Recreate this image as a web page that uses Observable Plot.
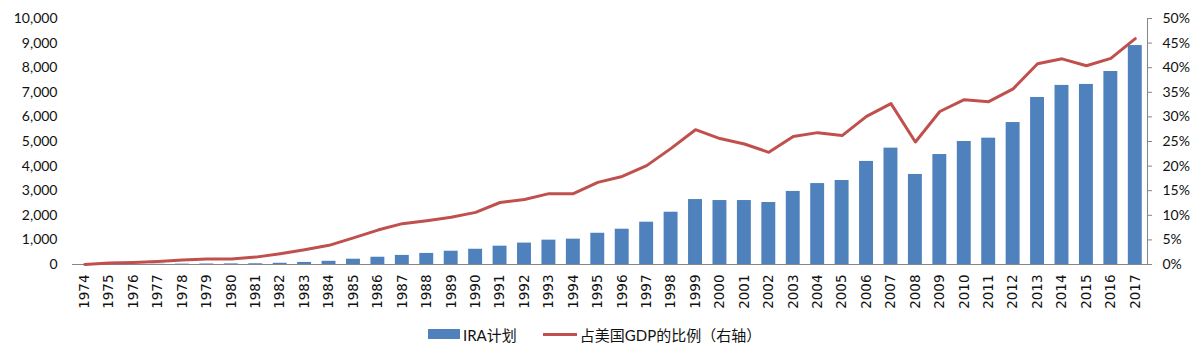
<!DOCTYPE html>
<html>
<head>
<meta charset="utf-8">
<script src="https://cdn.jsdelivr.net/npm/d3@7"></script>
<script src="https://cdn.jsdelivr.net/npm/@observablehq/plot@0.6"></script>
<style>
  html, body { margin: 0; padding: 0; background: #fff; }
  #chart { width: 1201px; }
  .legend { height: 24px; display: flex; align-items: center; padding-left: 428px;
            font-family: Lato, "Noto Sans CJK SC", sans-serif; font-size: 15px; color: #111; }
  .sw-bar { width: 32px; height: 10px; background: #4F81BD; margin-right: 3px; }
  .sw-line { width: 34px; height: 3px; background: #C0504D; margin-left: 26px; margin-right: 3px; }
</style>
</head>
<body>
<div id="chart"></div>
<div class="legend">
  <span class="sw-bar"></span><span>IRA计划</span>
  <span class="sw-line"></span><span>占美国GDP的比例（右轴）</span>
</div>
<script>
const years = ["1974","1975","1976","1977","1978","1979","1980","1981","1982","1983",
  "1984","1985","1986","1987","1988","1989","1990","1991","1992","1993",
  "1994","1995","1996","1997","1998","1999","2000","2001","2002","2003",
  "2004","2005","2006","2007","2008","2009","2010","2011","2012","2013",
  "2014","2015","2016","2017"];
const iraAssets = [1,3,5,9,14,20,25,30,50,85,
  130,215,295,370,450,540,620,745,870,990,
  1030,1270,1435,1720,2125,2640,2600,2600,2520,2970,
  3290,3415,4190,4730,3660,4470,5000,5135,5770,6790,
  7280,7320,7845,8900];
const gdpShare = [0,0.3,0.4,0.6,0.9,1.1,1.1,1.5,2.2,3.0,
  3.9,5.4,7.0,8.3,8.9,9.6,10.6,12.6,13.2,14.4,
  14.4,16.7,17.9,20.1,23.6,27.4,25.6,24.5,22.8,26.0,
  26.8,26.2,30.1,32.7,24.9,31.1,33.5,33.1,35.7,40.8,
  41.8,40.4,41.9,45.9];
const leftTicks = [0,1000,2000,3000,4000,5000,6000,7000,8000,9000,10000];
const rightTicks = [0,5,10,15,20,25,30,35,40,45,50];

const leftMax = 10000, rightMax = 50;
const toLeft = p => p * leftMax / rightMax;

const data = years.map((y, i) => ({year: y, ira: iraAssets[i], pct: gdpShare[i]}));

const chart = Plot.plot({
  width: 1201,
  height: 322,
  marginTop: 18,
  marginBottom: 58,
  marginLeft: 72,
  marginRight: 54,
  style: {color: "#111", background: "#fff"},
  x: {domain: years, paddingInner: 0.43, paddingOuter: 0.215, round: false},
  y: {domain: [0, leftMax]},
  marks: [
    Plot.barY(data, {x: "year", y: "ira", fill: "#4F81BD"}),
    Plot.ruleY([0], {stroke: "#868686", strokeWidth: 1}),
    Plot.frame({anchor: "right", stroke: "#868686"}),
    Plot.line(data, {x: "year", y: d => toLeft(d.pct), stroke: "#C0504D", strokeWidth: 3}),
    Plot.axisY({anchor: "left", ticks: leftTicks, tickFormat: d3.format(","), tickSize: 0,
      tickPadding: 15, label: null, fontSize: 14, fontFamily: "Lato"}),
    Plot.axisY({anchor: "right", ticks: rightTicks.map(toLeft),
      tickFormat: d => (d * rightMax / leftMax) + "%", tickSize: 4, stroke: "#868686",
      tickPadding: 11, label: null, fontSize: 14, fontFamily: "Lato", textStroke: "none"}),
    Plot.axisX({anchor: "bottom", tickRotate: -90, tickSize: 0, tickPadding: 10,
      label: null, fontSize: 13.5, fontFamily: "DejaVu Sans"})
  ]
});
document.getElementById("chart").appendChild(chart);
</script>
</body>
</html>
